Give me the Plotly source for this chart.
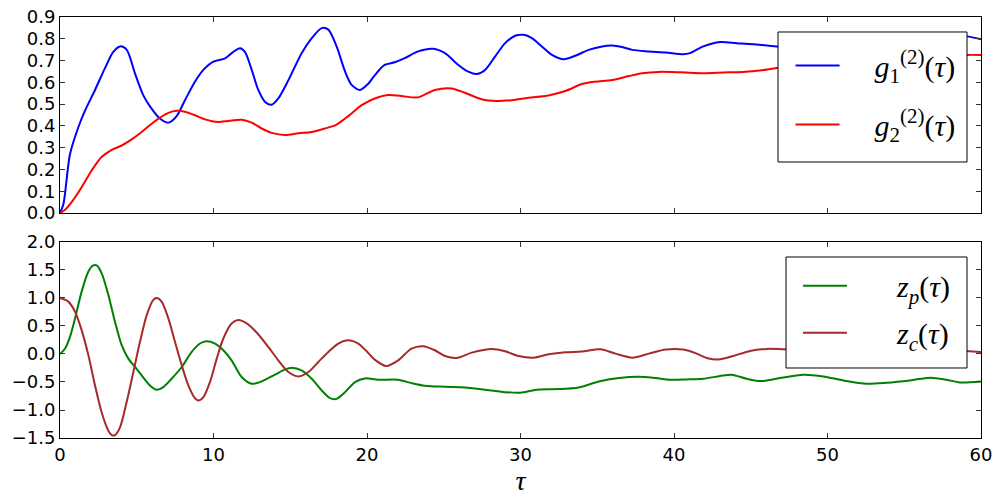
import plotly.graph_objects as go

# ---------------- data ----------------
tau_g1 = [0, 0.22, 0.65, 1.2, 1.63, 2.28, 2.93, 3.47, 3.91, 4.34, 4.89, 5.43, 5.86, 6.51, 7.06, 7.6,
          8.14, 8.79, 9.34, 9.99, 10.75, 11.29, 11.73, 12.05, 12.49, 12.92, 13.36, 13.79, 14.22, 14.88,
          15.74, 16.4, 17.05, 17.48, 18.02, 18.57, 19.0, 19.54, 20.1, 20.5, 21.15, 21.8, 22.46, 23.33,
          24.31, 25.08, 25.95, 26.6, 27.15, 27.69, 28.34, 29.0, 29.65, 30.2, 30.74, 31.39, 32.05, 32.81,
          33.57, 34.44, 35.32, 35.97, 36.62, 37.28, 38.37, 39.46, 40.6, 41.04, 41.91, 43.0, 44.08, 45.17,
          46.69, 48.5, 50.5, 52.5, 54.5, 56.5, 58.0, 59.07, 60.0]
g1 = [0.0, 0.04, 0.27, 0.395, 0.47, 0.565, 0.665, 0.74, 0.765, 0.75, 0.64, 0.54, 0.49, 0.434, 0.415, 0.445,
      0.518, 0.603, 0.657, 0.695, 0.71, 0.74, 0.757, 0.74, 0.657, 0.565, 0.51, 0.497, 0.526, 0.61,
      0.734, 0.803, 0.849, 0.842, 0.765, 0.65, 0.588, 0.565, 0.595, 0.632, 0.68, 0.692, 0.711, 0.742,
      0.754, 0.734, 0.68, 0.649, 0.638, 0.657, 0.718, 0.78, 0.814, 0.818, 0.803, 0.765, 0.726, 0.706,
      0.722, 0.749, 0.765, 0.769, 0.762, 0.749, 0.742, 0.737, 0.729, 0.734, 0.765, 0.785, 0.78, 0.775,
      0.765, 0.765, 0.772, 0.78, 0.79, 0.8, 0.812, 0.811, 0.798]

tau_g2 = [0, 0.33, 0.76, 1.41, 2.06, 2.71, 3.37, 4.02, 4.67, 5.32, 5.97, 6.51, 7.06, 7.6, 8.14, 8.79,
          9.45, 10.3, 10.97, 11.83, 12.49, 13.14, 13.79, 14.66, 15.53, 16.4, 17.26, 18.02, 18.78, 19.65,
          20.5, 21.37, 22.24, 23.33, 24.42, 25.51, 26.38, 27.47, 28.45, 29.43, 30.52, 31.83, 32.92, 34.0,
          34.88, 35.97, 37.06, 37.93, 39.02, 40.44, 41.91, 43.21, 44.52, 45.6, 46.69, 48.5, 50.5, 52.5,
          54.5, 56.5, 58.0, 59.07, 60.0]
g2 = [0.0, 0.015, 0.05, 0.118, 0.195, 0.257, 0.29, 0.31, 0.338, 0.372, 0.41, 0.438, 0.46, 0.469, 0.465, 0.449,
      0.43, 0.418, 0.423, 0.428, 0.415, 0.388, 0.368, 0.358, 0.366, 0.372, 0.388, 0.406, 0.445, 0.495,
      0.526, 0.542, 0.537, 0.531, 0.565, 0.572, 0.552, 0.522, 0.514, 0.518, 0.529, 0.54, 0.56, 0.592,
      0.603, 0.611, 0.629, 0.642, 0.648, 0.646, 0.642, 0.645, 0.648, 0.654, 0.666, 0.68, 0.695, 0.705,
      0.715, 0.72, 0.724, 0.726, 0.726]

tau_zp = [0, 0.33, 0.65, 0.98, 1.41, 1.85, 2.17, 2.39, 2.71, 3.15, 3.58, 4.02, 4.45, 4.89, 5.32, 5.86,
          6.3, 6.73, 7.27, 7.93, 8.58, 9.12, 9.55, 10.1, 10.64, 11.18, 11.83, 12.49, 13.14, 14.0, 14.66,
          15.09, 15.74, 16.4, 17.05, 17.59, 18.02, 18.57, 19.22, 19.87, 20.72, 22.03, 22.9, 23.77, 25.08,
          26.38, 27.69, 29.0, 29.98, 31.18, 32.48, 33.79, 35.1, 36.4, 37.71, 38.8, 39.74, 40.83, 41.91,
          43.0, 43.76, 44.73, 45.71, 46.9, 48.43, 49.73, 51.03, 52.55, 53.85, 55.37, 56.68, 57.76, 58.63, 60.0]
zp = [0.0, 0.097, 0.306, 0.636, 1.114, 1.473, 1.581, 1.581, 1.443, 1.054, 0.576, 0.157, -0.083, -0.232, -0.382, -0.561,
      -0.639, -0.591, -0.442, -0.232, 0.037, 0.187, 0.229, 0.187, 0.067, -0.113, -0.412, -0.531, -0.49, -0.37, -0.274,
      -0.244, -0.292, -0.442, -0.651, -0.789, -0.801, -0.681, -0.501, -0.436, -0.46, -0.46, -0.52, -0.567, -0.585,
      -0.597, -0.639, -0.681, -0.693, -0.633, -0.627, -0.597, -0.49, -0.43, -0.406, -0.43, -0.46, -0.454, -0.442,
      -0.394, -0.37, -0.442, -0.484, -0.43, -0.37, -0.4, -0.472, -0.531, -0.513, -0.472, -0.424, -0.46, -0.507, -0.49]

tau_zc = [0, 0.54, 0.98, 1.41, 1.85, 2.28, 2.71, 3.15, 3.37, 3.58, 3.91, 4.34, 4.78, 5.21, 5.65, 6.08,
          6.3, 6.62, 7.06, 7.49, 7.93, 8.36, 8.79, 9.01, 9.34, 9.77, 10.21, 10.64, 11.18, 11.62, 12.16,
          12.81, 13.57, 14.22, 14.88, 15.53, 16.18, 16.83, 17.48, 18.13, 18.78, 19.43, 19.98, 20.5, 21.26,
          22.03, 22.9, 23.66, 24.42, 25.08, 25.84, 26.82, 28.13, 29.0, 29.87, 30.85, 31.83, 32.92, 34.0,
          35.21, 36.19, 37.28, 38.37, 39.46, 40.6, 41.48, 42.13, 42.89, 43.87, 44.95, 46.04, 47.12, 48.5,
          50.0, 51.5, 53.0, 54.5, 56.0, 57.5, 59.07, 60.0]
zc = [1.0, 0.935, 0.755, 0.426, -0.023, -0.561, -1.04, -1.369, -1.447, -1.447, -1.309, -0.861, -0.322, 0.217, 0.695, 0.965,
      1.0, 0.935, 0.636, 0.217, -0.202, -0.561, -0.789, -0.831, -0.771, -0.501, -0.083, 0.277, 0.546, 0.606, 0.546,
      0.384, 0.127, -0.113, -0.322, -0.4, -0.322, -0.142, 0.037, 0.187, 0.247, 0.187, 0.049, -0.1, -0.214,
      -0.113, 0.097, 0.139, 0.067, -0.035, -0.071, 0.025, 0.091, 0.049, -0.035, -0.065, -0.005, 0.031, 0.043,
      0.085, 0.007, -0.065, 0.007, 0.079, 0.079, 0.007, -0.071, -0.1, -0.035, 0.055, 0.091, 0.085, 0.06,
      0.0, -0.04, 0.0, 0.05, 0.07, 0.065, 0.055, 0.037]

x_ticks = [0, 10, 20, 30, 40, 50, 60]
y1_ticks = [0.0, 0.1, 0.2, 0.3, 0.4, 0.5, 0.6, 0.7, 0.8, 0.9]
y2_ticks = [-1.5, -1.0, -0.5, 0.0, 0.5, 1.0, 1.5, 2.0]

names = ["<i>g</i><sub>1</sub><sup>(2)</sup>(<i>τ</i>)",
         "<i>g</i><sub>2</sub><sup>(2)</sup>(<i>τ</i>)",
         "<i>z</i><sub><i>p</i></sub>(<i>τ</i>)",
         "<i>z</i><sub><i>c</i></sub>(<i>τ</i>)"]

# ---------------- figure ----------------
fig = go.Figure()
fig.add_trace(go.Scatter(x=tau_g1, y=g1, mode="lines", name="\u00a0" * 4 + names[0],
                         line=dict(color="#0000ff", width=2, shape="spline", smoothing=0.8),
                         xaxis="x", yaxis="y", legend="legend", legendgroup="a"))
fig.add_trace(go.Scatter(x=tau_g2, y=g2, mode="lines", name="\u00a0" * 4 + names[1],
                         line=dict(color="#ff0000", width=2, shape="spline", smoothing=0.8),
                         xaxis="x", yaxis="y", legend="legend", legendgroup="b"))
fig.add_trace(go.Scatter(x=tau_zp, y=zp, mode="lines", name="\u00a0" * 6 + names[2],
                         line=dict(color="#008000", width=2, shape="spline", smoothing=0.8),
                         xaxis="x2", yaxis="y2", legend="legend2", legendgroup="c"))
fig.add_trace(go.Scatter(x=tau_zc, y=zc, mode="lines", name="\u00a0" * 6 + names[3],
                         line=dict(color="#a52a2a", width=2, shape="spline", smoothing=0.8),
                         xaxis="x2", yaxis="y2", legend="legend2", legendgroup="d"))

tickfont = dict(family="DejaVu Sans", size=18, color="black")
common_x = dict(range=[0, 60], tickvals=x_ticks, ticks="inside", ticklen=5, tickwidth=1, tickcolor="#333",
                showline=True, linecolor="black", linewidth=1, mirror="ticks", showgrid=False, zeroline=False,
                tickfont=tickfont, automargin=False)
common_y = dict(ticks="inside", ticklen=5, tickwidth=1, tickcolor="#333", showline=True, linecolor="black",
                linewidth=1, mirror="ticks", showgrid=False, zeroline=False, tickfont=tickfont, tickformat=".1f",
                automargin=False)

# legend frames (opaque white boxes, as in the reference)
frames = [
    dict(type="rect", xref="paper", yref="paper", x0=0.7796, x1=0.9848, y0=0.6556, y1=0.9644,
         fillcolor="white", line=dict(color="black", width=1), layer="above"),
    dict(type="rect", xref="paper", yref="paper", x0=0.7883, x1=0.9848, y0=0.1663, y1=0.4299,
         fillcolor="white", line=dict(color="black", width=1), layer="above"),
]

legfont = dict(family="Liberation Serif", size=30, color="black")
fig.update_layout(
    width=1000, height=497,
    margin=dict(l=60, r=19, t=17, b=59, autoexpand=False),
    paper_bgcolor="white", plot_bgcolor="white",
    shapes=frames,
    xaxis=dict(domain=[0, 1], anchor="y", showticklabels=False, **common_x),
    yaxis=dict(domain=[0.5344, 1.0], anchor="x", range=[0, 0.9], tickvals=y1_ticks, **common_y),
    xaxis2=dict(domain=[0, 1], anchor="y2", showticklabels=True, matches="x",
                title=dict(text="<i>τ</i>", font=dict(family="Liberation Serif", size=28, color="black"), standoff=0),
                **common_x),
    yaxis2=dict(domain=[0, 0.4656], anchor="x2", range=[-1.5, 2.0], tickvals=y2_ticks, **common_y),
    legend=dict(x=0.8855, y=0.815, xanchor="center", yanchor="middle", bgcolor="rgba(0,0,0,0)",
                borderwidth=0, font=legfont, traceorder="grouped", tracegroupgap=17, itemwidth=44),
    legend2=dict(x=0.8865, y=0.306, xanchor="center", yanchor="middle", bgcolor="rgba(0,0,0,0)",
                 borderwidth=0, font=legfont, traceorder="grouped", tracegroupgap=5, itemwidth=44),
    showlegend=True,
)

fig.write_html("out.html")
